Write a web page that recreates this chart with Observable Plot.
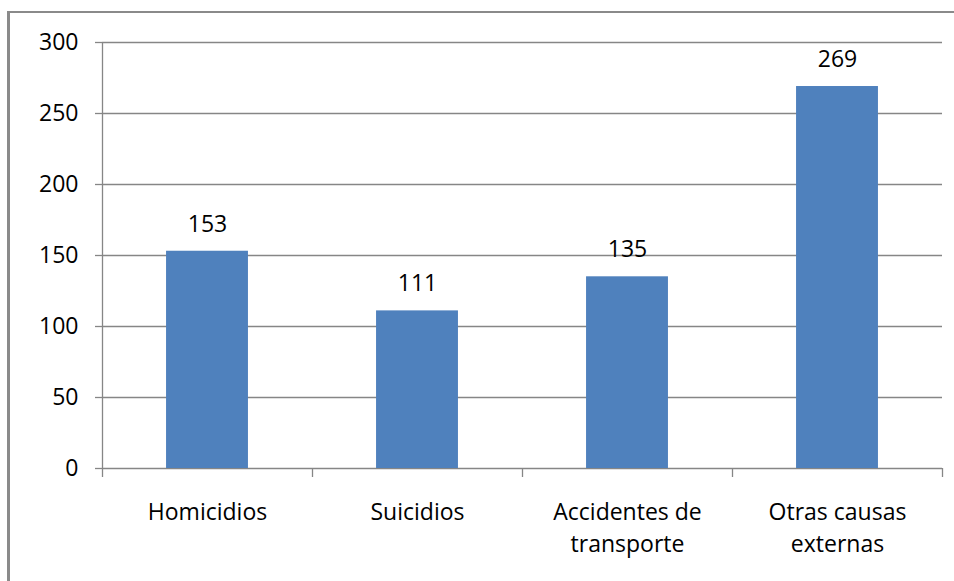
<!DOCTYPE html>
<html>
<head>
<meta charset="utf-8">
<script src="https://cdn.jsdelivr.net/npm/d3@7"></script>
<script src="https://cdn.jsdelivr.net/npm/@observablehq/plot@0.6"></script>
<style>
  html, body { margin: 0; padding: 0; background: #fff; }
  #wrap { position: relative; width: 954px; height: 581px; overflow: hidden; }
  #border { position: absolute; left: 7px; top: 11px; width: 960px; height: 600px;
            border-left: 3px solid #8a8a8a; border-top: 2px solid #8a8a8a; box-sizing: border-box; pointer-events: none; }
  svg { display: block; }
</style>
</head>
<body>
<div id="wrap"><div id="border"></div></div>
<script>
const categories = ["Homicidios", "Suicidios", "Accidentes de\ntransporte", "Otras causas\nexternas"];
const values = [153, 111, 135, 269];
const yTicks = [0, 50, 100, 150, 200, 250, 300];

const data = categories.map((c, i) => ({cat: c, i, value: values[i]}));
const boundaries = d3.range(categories.length + 1);
const centers = categories.map((c, i) => i + 0.5);

const font = "'Open Sans', Lato, sans-serif";
const grey = "#868686";
const fs = 23;

const chart = Plot.plot({
  width: 954,
  height: 581,
  marginLeft: 102,
  marginRight: 12,
  marginTop: 42,
  marginBottom: 113,
  style: {fontFamily: font, fontSize: fs + "px", color: "#000", background: "transparent"},
  x: {type: "linear", domain: [0, categories.length]},
  y: {domain: [0, 300]},
  marks: [
    Plot.ruleY(yTicks, {stroke: grey, strokeWidth: 1.3, strokeOpacity: 1}),
    Plot.ruleX([0], {stroke: grey, strokeWidth: 1.3}),
    Plot.axisY({ticks: yTicks, tickSize: 7, tickPadding: 17, stroke: grey, strokeOpacity: 1, strokeWidth: 1.3, label: null, fontSize: fs, fill: "#000"}),
    Plot.axisX({ticks: boundaries, tickSize: 9, tickFormat: () => "", stroke: grey, strokeOpacity: 1, strokeWidth: 1.3, label: null}),
    Plot.axisX({ticks: centers, tickSize: 0, tickPadding: 29, tickFormat: (d) => categories[Math.floor(d)], lineHeight: 1.38, fontSize: fs, fill: "#000", label: null, textAnchor: "middle"}),
    Plot.rectY(data, {x1: d => d.i + 0.305, x2: d => d.i + 0.695, y: "value", fill: "#4F81BD"}),
    Plot.text(data, {x: d => d.i + 0.5, y: "value", text: d => String(d.value), dy: -27, fontSize: fs, fill: "#000"})
  ]
});
document.getElementById("wrap").prepend(chart);
</script>
</body>
</html>
